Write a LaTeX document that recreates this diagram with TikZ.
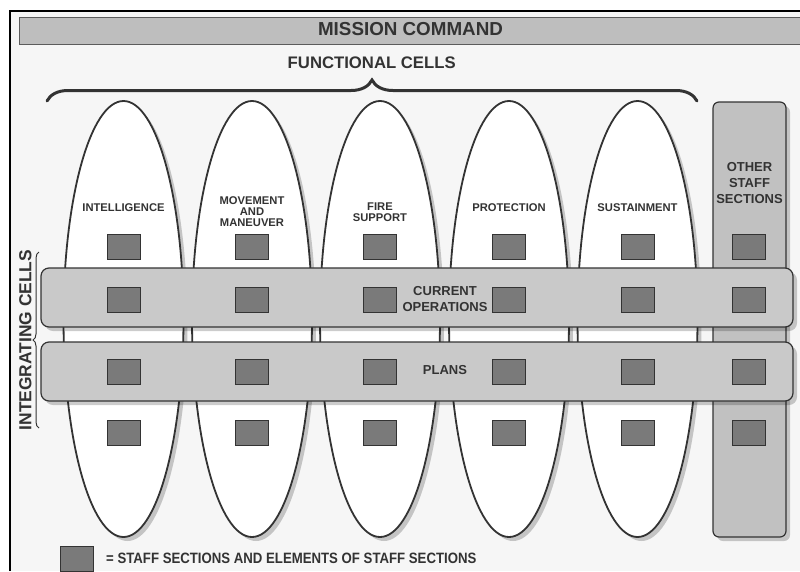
\documentclass[tikz,border=0pt]{standalone}
\usepackage{fontspec}
\setmainfont{Liberation Sans}
\usepackage{tikz}
\usetikzlibrary{shapes.geometric}
\usetikzlibrary{shadows}
\usetikzlibrary{decorations.pathreplacing}
\usepackage{xcolor}
\definecolor{ink}{HTML}{333333}
\definecolor{paper}{HTML}{F6F6F6}
\definecolor{barfill}{HTML}{BEBEBE}
\definecolor{cellfill}{HTML}{C9C9C9}
\definecolor{sectfill}{HTML}{7A7A7A}
\newcommand{\lblfont}{\bfseries\fontsize{11.2}{11}\selectfont}
\newcommand{\midfont}{\bfseries\fontsize{13}{16}\selectfont}
\tikzset{
  shade/.style={drop shadow={shadow xshift=4pt,shadow yshift=-4pt,opacity=0.2,fill=black}},
  fcell/.style={ellipse,draw=ink,line width=1.8pt,fill=white,inner sep=0pt,
    minimum width=120pt,minimum height=436pt,shade},
  icell/.style={rectangle,rounded corners=8pt,draw=ink,line width=1.2pt,fill=cellfill,
    inner sep=0pt,minimum width=752pt,minimum height=59pt,shade},
  sect/.style={rectangle,draw=ink,line width=1pt,fill=sectfill,inner sep=0pt,
    minimum width=33pt,minimum height=25pt},
  lbl/.style={text=ink,align=center,inner sep=0pt,font=\lblfont},
  midlbl/.style={text=ink,align=center,inner sep=0pt,font=\midfont}
}
\begin{document}
\begin{tikzpicture}[x=1pt,y=-1pt]
\useasboundingbox (0,0) rectangle (800,571);
\fill[paper] (10,11) rectangle (800,571);
\draw[line width=1.6pt,black] (10,571) -- (10,11) -- (800,11);
\node[rectangle,draw=ink!80,line width=0.8pt,fill=barfill,inner sep=0pt,
  minimum width=781pt,minimum height=27pt] (bar) at (409.5,30.5) {};
\node[text=ink,inner sep=0pt,font=\bfseries\fontsize{18.8}{20}\selectfont] (title) at (410.5,28.7) {MISSION COMMAND};
\node[text=ink,inner sep=0pt,font=\bfseries\fontsize{16.7}{18}\selectfont] (func) at (371.7,63) {FUNCTIONAL CELLS};
\coordinate (fbl) at (47,101);
\coordinate (fbr) at (697,101);
\draw[ink,line width=3pt,line cap=round,decorate,decoration={brace,amplitude=21pt}] (fbl) -- (fbr);
\foreach \x [count=\i] in {123.5,252,380,509,637.5}
  \node[fcell] (fc\i) at (\x,319) {};
\node[rectangle,rounded corners=6pt,draw=ink,line width=1.2pt,fill=cellfill!96!black,
  inner sep=0pt,minimum width=73pt,minimum height=435pt,shade] (other) at (749.5,319.5) {};
\node[lbl] (l1) at (123.5,207.5) {INTELLIGENCE};
\node[lbl] (l2) at (252,212) {MOVEMENT\\AND\\MANEUVER};
\node[lbl] (l3) at (380,212.5) {FIRE\\SUPPORT};
\node[lbl] (l4) at (509,207.5) {PROTECTION};
\node[lbl] (l5) at (637.5,207.5) {SUSTAINMENT};
\node[midlbl] (l6) at (749.5,183) {OTHER\\STAFF\\SECTIONS};
\node[icell] (curops) at (417,297.5) {};
\node[icell] (plans) at (417,371.5) {};
\foreach \x [count=\i] in {123.5,252,380,509,638,749}
  \foreach \y [count=\j] in {246.5,299.5,371.5,432.5}
    \node[sect] (s\i\j) at (\x,\y) {};
\node[midlbl] (curlbl) at (445,299) {CURRENT\\OPERATIONS};
\node[midlbl] (planlbl) at (445,370) {PLANS};
\coordinate (ibb) at (39,428);
\coordinate (ibt) at (39,252);
\draw[ink,line width=1pt,decorate,decoration={brace,amplitude=6pt}] (ibb) -- (ibt);
\node[text=ink,inner sep=0pt,rotate=90,font=\bfseries\fontsize{17.4}{18}\selectfont] (integ) at (25.5,340) {INTEGRATING CELLS};
\node[sect] (key) at (77,558.5) {};
\node[text=ink,inner sep=0pt,anchor=west,xscale=0.88,font=\bfseries\fontsize{15}{16}\selectfont] (keylbl) at (106,558.5) {= STAFF SECTIONS AND ELEMENTS OF STAFF SECTIONS};
\end{tikzpicture}
\end{document}
